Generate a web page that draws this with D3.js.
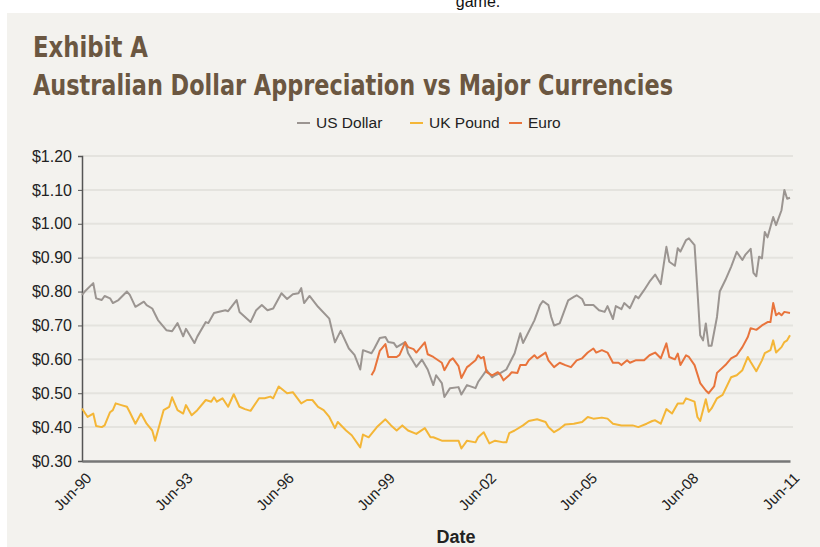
<!DOCTYPE html>
<meta charset="utf-8">
<title>Exhibit A - Australian Dollar Appreciation</title>
<style>
body {
  margin: 0px;
  background: #fff;
}
text {
  font-family: "Liberation Sans", Arial, sans-serif;
}
.title {
  font-family: "DejaVu Sans Condensed", "DejaVu Sans", sans-serif;
  font-weight: bold;
  fill: #6b5741;
}
.grid line {
  stroke: #e4e3de;
  stroke-width: 2;
}
.series {
  fill: none;
  stroke-width: 2;
  stroke-linejoin: round;
}
</style>
<script src="https://d3js.org/d3.v7.min.js"></script>
<body>
<script>
var width = 820, height = 547;

// months after Jun-1990
var usdMonth = [0,1,4,5,7,8,10,11,13,16,17,19,20,22,23,25,27,30,32,34,36,37,40,41,44,45,47,51,52,55,56,60,62,64,66,68,71,73,75,77,78,79,81,84,88,90,92,95,97,99,
  100,103,104,106,108,109,111,112,115,116,119,121,123,125,126,128,129,131,134,135,137,140,141,144,146,147,149,151,154,156,157,161,163,164,166,167,168,170,173,175,176,178,179,182,184,186,187,189,190,192,193,195,197,198,
  200,202,204,206,208,209,211,212,213,215,216,218,219,220,221,222,223,224,226,227,229,231,233,235,236,238,239,240,241,242,243,244,246,247,249,250,251,252];
var usdValue = [0.79,0.80,0.825,0.78,0.775,0.787,0.78,0.766,0.775,0.80,0.79,0.755,0.76,0.77,0.76,0.75,0.716,0.686,0.683,0.707,0.668,0.69,0.648,0.667,0.71,0.707,0.737,0.745,0.742,0.775,0.74,0.71,0.745,0.76,0.745,0.75,0.795,0.778,0.792,0.795,0.81,0.766,0.787,0.755,0.72,0.65,0.684,0.632,0.613,0.57,
  0.627,0.618,0.632,0.663,0.666,0.651,0.648,0.636,0.651,0.619,0.578,0.599,0.57,0.524,0.553,0.53,0.489,0.515,0.518,0.496,0.524,0.515,0.533,0.568,0.547,0.553,0.56,0.57,0.618,0.677,0.648,0.715,0.76,0.772,0.76,0.725,0.70,0.706,0.774,0.784,0.789,0.778,0.76,0.76,0.745,0.74,0.757,0.719,0.757,0.748,0.766,0.751,0.787,0.78,
  0.804,0.829,0.85,0.822,0.932,0.888,0.876,0.928,0.918,0.952,0.957,0.937,0.804,0.671,0.656,0.706,0.64,0.64,0.725,0.80,0.834,0.873,0.917,0.893,0.908,0.926,0.855,0.845,0.903,0.898,0.976,0.96,1.02,0.996,1.04,1.10,1.074,1.077];

var gbpMonth = [0,2,4,5,7,8,10,11,12,14,16,17,19,21,23,25,26,29,31,32,34,36,37,39,41,44,46,47,48,50,52,54,56,58,60,63,65,67,68,70,73,75,78,80,82,84,86,88,90,91,94,96,99,
  100,102,105,108,110,112,114,116,119,122,124,125,128,131,134,135,137,140,141,143,145,147,150,151,152,154,157,159,162,165,166,168,170,172,175,178,180,182,185,187,189,192,194,196,198,
  201,203,204,206,208,210,212,214,215,218,219,220,222,223,224,226,228,231,233,235,237,238,240,242,243,245,246,247,249,250,251,252];
var gbpValue = [0.455,0.43,0.44,0.403,0.40,0.405,0.444,0.45,0.47,0.465,0.46,0.444,0.41,0.44,0.41,0.39,0.36,0.45,0.46,0.488,0.45,0.44,0.465,0.435,0.45,0.48,0.475,0.488,0.475,0.485,0.46,0.497,0.46,0.453,0.448,0.485,0.485,0.49,0.485,0.52,0.50,0.503,0.47,0.48,0.48,0.46,0.45,0.43,0.397,0.415,0.39,0.376,0.34,
  0.378,0.37,0.40,0.423,0.405,0.39,0.405,0.39,0.38,0.397,0.37,0.37,0.36,0.36,0.36,0.337,0.36,0.355,0.37,0.385,0.352,0.36,0.355,0.355,0.382,0.39,0.405,0.418,0.423,0.415,0.40,0.385,0.395,0.408,0.41,0.415,0.43,0.425,0.428,0.425,0.41,0.405,0.405,0.405,0.40,
  0.41,0.418,0.42,0.41,0.453,0.44,0.47,0.47,0.485,0.475,0.43,0.418,0.482,0.445,0.455,0.485,0.495,0.547,0.553,0.568,0.607,0.592,0.565,0.597,0.618,0.627,0.656,0.62,0.636,0.651,0.656,0.671];

var eurMonth = [103,104,106,108,109,112,113,115,116,118,119,120,122,123,125,128,129,131,132,134,135,137,138,140,141,142,143,144,146,148,149,150,152,153,155,156,158,159,161,162,165,166,168,170,172,174,176,178,180,182,183,185,187,189,191,192,194,195,197,
  200,202,204,206,208,209,211,212,213,215,216,218,220,222,223,225,226,229,231,233,235,237,238,240,242,244,245,246,247,248,249,250,252];
var eurValue = [0.553,0.568,0.625,0.645,0.607,0.607,0.613,0.65,0.636,0.63,0.62,0.63,0.65,0.615,0.607,0.59,0.568,0.597,0.603,0.58,0.545,0.577,0.583,0.597,0.612,0.603,0.607,0.562,0.553,0.562,0.553,0.538,0.553,0.562,0.56,0.583,0.583,0.597,0.612,0.603,0.62,0.597,0.577,0.59,0.583,0.577,0.597,0.603,0.62,0.632,0.62,0.627,0.62,0.59,0.59,0.583,0.597,0.59,0.597,
  0.597,0.612,0.62,0.603,0.647,0.607,0.60,0.617,0.583,0.612,0.607,0.583,0.53,0.508,0.50,0.52,0.56,0.583,0.603,0.612,0.636,0.666,0.692,0.687,0.70,0.71,0.71,0.766,0.73,0.737,0.73,0.74,0.737];

var seriesNames = ["US Dollar", "UK Pound", "Euro"];
var seriesColors = ["#9b9591", "#f4b637", "#e8743c"];
var yTicks = [0.30, 0.40, 0.50, 0.60, 0.70, 0.80, 0.90, 1.00, 1.10, 1.20];
var xTickYears = [1990, 1993, 1996, 1999, 2002, 2005, 2008, 2011];

var start = new Date(1990, 5, 1);
function toDate(m) { return d3.timeMonth.offset(start, m); }

var series = [
  usdMonth.map(function(m, i) { return {date: toDate(m), value: usdValue[i]}; }),
  gbpMonth.map(function(m, i) { return {date: toDate(m), value: gbpValue[i]}; }),
  eurMonth.map(function(m, i) { return {date: toDate(m), value: eurValue[i]}; })
];

var svg = d3.select("body").append("svg")
    .attr("width", width)
    .attr("height", height);

// panel
svg.append("rect")
    .attr("x", 7).attr("y", 13)
    .attr("width", width - 7).attr("height", height - 13)
    .attr("fill", "#f3f2ee");

// bit of the page text above, partly out of view like the source
svg.append("text")
    .attr("x", 478).attr("y", 7)
    .attr("text-anchor", "middle")
    .style("font-size", "16px")
    .attr("fill", "#111")
    .text("game.");

svg.append("text").attr("class", "title")
    .attr("x", 33).attr("y", 57)
    .style("font-size", "29px")
    .attr("textLength", 115)
    .attr("lengthAdjust", "spacingAndGlyphs")
    .text("Exhibit A");
svg.append("text").attr("class", "title")
    .attr("x", 33).attr("y", 95)
    .style("font-size", "29px")
    .attr("textLength", 640)
    .attr("lengthAdjust", "spacingAndGlyphs")
    .text("Australian Dollar Appreciation vs Major Currencies");

var x = d3.scaleTime()
    .domain([start, new Date(2011, 5, 1)])
    .range([82, 790]);
var y = d3.scaleLinear()
    .domain([0.30, 1.20])
    .range([461, 156]);

// grid
svg.append("g").attr("class", "grid")
  .selectAll("line")
    .data(yTicks.slice(1))
  .enter().append("line")
    .attr("x1", 82).attr("x2", 793)
    .attr("y1", function(d) { return y(d); })
    .attr("y2", function(d) { return y(d); });

// y axis
var yAxis = svg.append("g")
    .attr("transform", "translate(82,0)")
    .call(d3.axisLeft(y).tickValues(yTicks).tickSize(4).tickPadding(6)
      .tickFormat(function(d) { return "$" + d.toFixed(2); }));
yAxis.select(".domain").attr("stroke", "#555").attr("stroke-width", 1.5);
yAxis.selectAll(".tick line").attr("stroke", "#555");
yAxis.selectAll("text").style("font-size", "16px").attr("fill", "#222")
    .style("font-family", "Liberation Sans, Arial, sans-serif");

// lines
var line = d3.line()
    .x(function(d) { return x(d.date); })
    .y(function(d) { return y(d.value); });

svg.selectAll("path.series")
    .data(series)
  .enter().append("path")
    .attr("class", "series")
    .attr("stroke", function(d, i) { return seriesColors[i]; })
    .attr("d", line);

// x axis
var xAxis = svg.append("g")
    .attr("transform", "translate(0,461)")
    .call(d3.axisBottom(x)
      .tickValues(xTickYears.map(function(yr) { return new Date(yr, 5, 1); }))
      .tickSize(0)
      .tickFormat(d3.timeFormat("%b-%y")));
xAxis.select(".domain").attr("stroke", "#777").attr("stroke-width", 2.5);
xAxis.selectAll("text")
    .style("font-size", "15px")
    .attr("fill", "#222")
    .style("font-family", "Liberation Sans, Arial, sans-serif")
    .attr("text-anchor", "end")
    .attr("x", 0).attr("y", 0).attr("dx", 0).attr("dy", 0)
    .attr("transform", "translate(10,18) rotate(-45)");

svg.append("text")
    .attr("x", 456).attr("y", 543)
    .attr("text-anchor", "middle")
    .style("font-size", "18px")
    .style("font-weight", "bold")
    .attr("fill", "#222")
    .text("Date");

// legend
var legendX = [297, 410, 509];
var legend = svg.append("g");
var item = legend.selectAll("g")
    .data(seriesNames)
  .enter().append("g")
    .attr("transform", function(d, i) { return "translate(" + legendX[i] + ",123)"; });
item.append("line")
    .attr("x1", 0).attr("x2", 13)
    .attr("stroke", function(d, i) { return seriesColors[i]; })
    .attr("stroke-width", 2);
item.append("text")
    .attr("x", 19).attr("dy", "0.35em")
    .style("font-size", "15.5px")
    .attr("fill", "#222")
    .text(function(d) { return d; });
</script>
